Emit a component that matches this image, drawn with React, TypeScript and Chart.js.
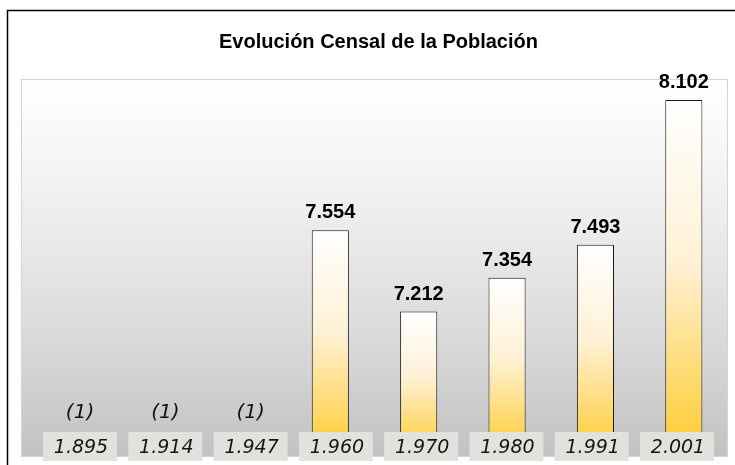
import React, { useEffect, useRef } from "react";
import { Chart, registerables } from "chart.js";

Chart.register(...registerables);

const chartTitle = "Evolución Censal de la Población";
const categories = ["1.895", "1.914", "1.947", "1.960", "1.970", "1.980", "1.991", "2.001"];
const population: (number | null)[] = [null, null, null, 7554, 7212, 7354, 7493, 8102];
const missingNote = "(1)";
const yMin = 6600;
const yMax = 8190;

const fmt = (v: number) => `${Math.floor(v / 1000)}.${String(v % 1000).padStart(3, "0")}`;

const decorPlugin = {
  id: "decor",
  beforeDraw(chart: any) {
    const { ctx, chartArea: a } = chart;
    ctx.save();
    ctx.fillStyle = "#ffffff";
    ctx.fillRect(0, 0, chart.width, chart.height);
    // outer frame (left and top edges visible)
    ctx.strokeStyle = "#000000";
    ctx.lineWidth = 1.5;
    ctx.beginPath();
    ctx.moveTo(7.5, chart.height + 20);
    ctx.lineTo(7.5, 10.5);
    ctx.lineTo(chart.width + 20, 10.5);
    ctx.stroke();
    // plot background
    const g = ctx.createLinearGradient(0, a.top, 0, a.bottom);
    g.addColorStop(0, "#ffffff");
    g.addColorStop(0.3, "#f1f1f1");
    g.addColorStop(0.7, "#d9d9d9");
    g.addColorStop(1, "#c2c2c2");
    ctx.fillStyle = g;
    ctx.fillRect(a.left, a.top, a.right - a.left, a.bottom - a.top);
    ctx.strokeStyle = "#d4d4d4";
    ctx.lineWidth = 1;
    ctx.strokeRect(a.left + 0.5, a.top + 0.5, a.right - a.left - 1, a.bottom - a.top - 1);
    // title
    ctx.fillStyle = "#000000";
    ctx.font = "bold 20px 'Liberation Sans', Arial, sans-serif";
    ctx.textAlign = "center";
    ctx.textBaseline = "middle";
    ctx.fillText(chartTitle, (a.left + a.right) / 2 + 4, 42);
    ctx.restore();
  },
  afterDatasetsDraw(chart: any) {
    const { ctx, chartArea: a } = chart;
    const xs = chart.scales.x;
    const ys = chart.scales.y;
    const mid = (a.left + a.right) / 2;
    const labelX = (i: number) => mid + (xs.getPixelForValue(i) - mid) * 0.965 + 4;
    ctx.save();
    ctx.textAlign = "center";
    ctx.textBaseline = "alphabetic";
    population.forEach((v, i) => {
      if (v == null) {
        ctx.font = "italic 20px 'DejaVu Sans', Verdana, sans-serif";
        ctx.fillStyle = "#111111";
        ctx.fillText(missingNote, labelX(i), 418);
      } else {
        ctx.font = "bold 20px 'Liberation Sans', Arial, sans-serif";
        ctx.fillStyle = "#000000";
        ctx.fillText(fmt(v), xs.getPixelForValue(i), ys.getPixelForValue(v) - 12);
      }
    });
    // category label boxes
    categories.forEach((c, i) => {
      const cx = labelX(i);
      ctx.fillStyle = "#e1e1dd";
      ctx.fillRect(cx - 37, 432, 74, 29);
      ctx.fillStyle = "#151515";
      ctx.font = "italic 19px 'DejaVu Sans', Verdana, sans-serif";
      ctx.fillText(c, cx + 1, 453);
    });
    // keep the area right of the plot blank below the frame's top edge
    ctx.fillStyle = "#ffffff";
    ctx.fillRect(a.right + 1, 12, chart.width - a.right + 5, chart.height);
    ctx.restore();
  },
};

export default function App() {
  const ref = useRef<HTMLCanvasElement | null>(null);
  useEffect(() => {
    if (!ref.current) return;
    const chart = new Chart(ref.current, {
      type: "bar",
      data: {
        labels: categories,
        datasets: [
          {
            data: population as any,
            borderColor: "#1a1a1a",
            borderWidth: 1,
            barPercentage: 0.42,
            categoryPercentage: 1,
            backgroundColor: (ctx: any) => {
              const chart = ctx.chart;
              const a = chart.chartArea;
              const v = ctx.raw;
              if (!a || v == null) return "#ffcc33";
              const top = chart.scales.y.getPixelForValue(v);
              const g = chart.ctx.createLinearGradient(0, top, 0, a.bottom);
              g.addColorStop(0, "#ffffff");
              g.addColorStop(0.45, "#fff1d6");
              g.addColorStop(1, "#ffca2a");
              return g;
            },
          },
        ],
      },
      options: {
        animation: false,
        responsive: true,
        maintainAspectRatio: false,
        layout: { padding: { left: 21, right: 7, top: 79, bottom: 8 } },
        scales: {
          x: { display: false },
          y: { display: false, min: yMin, max: yMax },
        },
        plugins: { legend: { display: false }, tooltip: { enabled: false } },
      },
      plugins: [decorPlugin],
    });
    return () => chart.destroy();
  }, []);
  return (
    <div style={{ position: "absolute", left: 0, top: 0, width: 735, height: 465 }}>
      <canvas ref={ref} />
    </div>
  );
}
